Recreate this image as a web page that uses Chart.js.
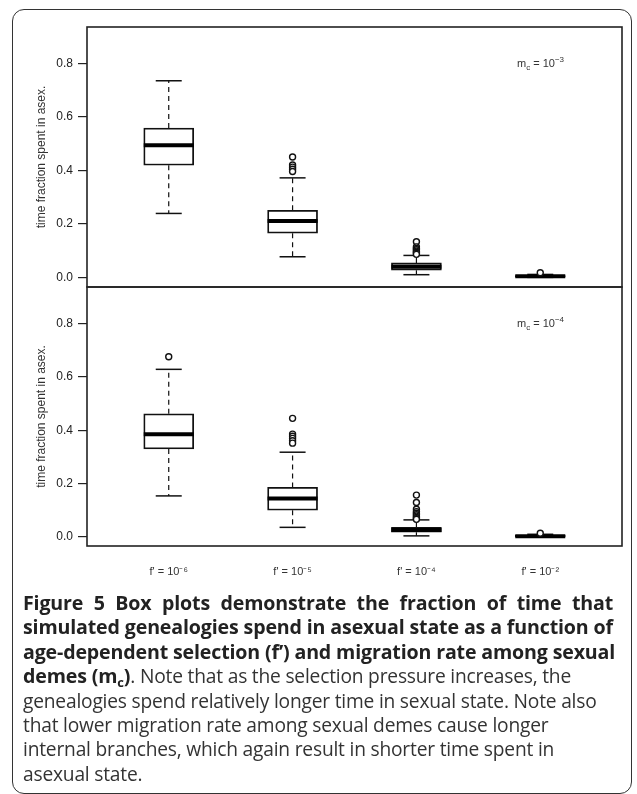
<!DOCTYPE html>
<html>
<head>
<meta charset="utf-8">
<script src="https://cdn.jsdelivr.net/npm/chart.js@4.4.0/dist/chart.umd.min.js"></script>
<style>
  body { margin:0; background:#fff; width:637px; height:794px; overflow:hidden; position:relative; }
  .frame { position:absolute; left:12px; top:9px; width:620px; height:785px; box-sizing:border-box; border:1.5px solid #333; border-radius:12px; }
  #top, #bot { position:absolute; left:0; }
  #top { top:0; }
  #bot { top:280px; }
  .caption { position:absolute; left:23px; top:591px; width:590px; font-family:"Open Sans", sans-serif; font-size:19.2px; line-height:24.4px; color:#333; white-space:nowrap; letter-spacing:-0.2px; }
  .caption div { height:24.4px; }
  .caption .j { text-align:justify; text-align-last:justify; }
  .caption b { color:#222; font-weight:700; font-size:19.6px; letter-spacing:-0.15px; }
  .caption .sub { font-size:13px; position:relative; top:4px; }
</style>
</head>
<body>
<div class="frame"></div>
<canvas id="top" width="637" height="300"></canvas>
<canvas id="bot" width="637" height="320"></canvas>
<div class="caption">
<div class="j"><b>Figure 5 Box plots demonstrate the fraction of time that</b></div>
<div class="j"><b>simulated genealogies spend in asexual state as a function of</b></div>
<div class="j"><b>age-dependent selection (f’) and migration rate among sexual</b></div>
<div><b>demes (m<span class="sub">c</span>)</b>. Note that as the selection pressure increases, the</div>
<div>genealogies spend relatively longer time in sexual state. Note also</div>
<div>that lower migration rate among sexual demes cause longer</div>
<div>internal branches, which again result in shorter time spent in</div>
<div>asexual state.</div>
</div>
<script>
const categories = ["f' = 10⁻⁶", "f' = 10⁻⁵", "f' = 10⁻⁴", "f' = 10⁻²"];
const yTicks = [0, 0.2, 0.4, 0.6, 0.8];

// panel m_c = 10^-3
const topLow    = [0.239, 0.077, 0.010, 0.000];
const topQ1     = [0.419, 0.165, 0.027, 0.002];
const topMedian = [0.494, 0.211, 0.040, 0.004];
const topQ3     = [0.558, 0.251, 0.054, 0.007];
const topHigh   = [0.735, 0.372, 0.082, 0.011];
const topOutliers = [[], [0.450, 0.420, 0.412, 0.404, 0.396], [0.133, 0.114, 0.108, 0.103, 0.098, 0.094, 0.090, 0.086], [0.017]];

// panel m_c = 10^-4
const botLow    = [0.154, 0.036, 0.004, 0.000];
const botQ1     = [0.330, 0.100, 0.018, 0.001];
const botMedian = [0.385, 0.144, 0.026, 0.003];
const botQ3     = [0.462, 0.186, 0.036, 0.006];
const botHigh   = [0.629, 0.318, 0.064, 0.010];
const botOutliers = [[0.676], [0.445, 0.386, 0.378, 0.370, 0.361, 0.352], [0.157, 0.129, 0.104, 0.095, 0.089, 0.083, 0.078, 0.073, 0.068, 0.066], [0.014]];

function boxDatasets(low, q1, med, q3, high, outl) {
  const pos = categories.map((c, i) => i + 1);
  const whisk = [];
  const caps = [];
  const outs = [];
  pos.forEach((x, i) => {
    whisk.push({x, y: q3[i]}, {x, y: high[i]}, {x, y: null}, {x, y: q1[i]}, {x, y: low[i]}, {x, y: null});
    caps.push({x, y: low[i]}, {x, y: high[i]});
    outl[i].forEach(v => outs.push({x, y: v}));
  });
  return [
    { type: 'line', data: whisk, borderColor: '#111', borderWidth: 1.2, borderDash: [5, 4], pointRadius: 0, spanGaps: false, order: 5 },
    { type: 'bar', data: pos.map((x, i) => ({x, y: [q1[i], q3[i]]})), backgroundColor: '#fff', borderColor: '#111', borderWidth: 1.8, borderSkipped: false, barThickness: 50, grouped: false, order: 4 },
    { type: 'scatter', data: pos.map((x, i) => ({x, y: med[i]})), pointStyle: 'line', pointRadius: 25, pointBorderColor: '#000', pointBorderWidth: 4, order: 3 },
    { type: 'scatter', data: caps, pointStyle: 'line', pointRadius: 13, pointBorderColor: '#111', pointBorderWidth: 1.5, order: 3 },
    { type: 'scatter', data: outs, pointStyle: 'circle', pointRadius: 3, pointBackgroundColor: '#fff', pointBorderColor: '#111', pointBorderWidth: 1.4, order: 1 }
  ];
}

// box around the plot area, like R
const framePlugin = {
  id: 'frame',
  afterDraw(chart) {
    const a = chart.chartArea, ctx = chart.ctx;
    ctx.save();
    ctx.strokeStyle = '#222';
    ctx.lineWidth = 1.6;
    ctx.strokeRect(a.left, a.top, a.right - a.left, a.bottom - a.top);
    ctx.restore();
  }
};

// m_c = 10^x label in the corner
const notePlugin = {
  id: 'note',
  afterDraw(chart, args, opts) {
    const a = chart.chartArea, ctx = chart.ctx;
    let x = a.right - 105, y = a.top + 40;
    ctx.save();
    ctx.fillStyle = '#333';
    ctx.textBaseline = 'alphabetic';
    const put = (t, size, dy) => {
      ctx.font = size + 'px "Liberation Sans", Arial, sans-serif';
      ctx.fillText(t, x, y + dy);
      x += ctx.measureText(t).width;
    };
    put('m', 11, 0);
    put('c', 8, 3);
    put(' = 10', 11, 0);
    put(opts.exp, 8, -5);
    ctx.restore();
  }
};

function makeChart(id, sets, yMin, yMax, exp, showX) {
  return new Chart(document.getElementById(id), {
    type: 'bar',
    data: { datasets: sets },
    plugins: [framePlugin, notePlugin],
    options: {
      responsive: false,
      animation: false,
      layout: {
        autoPadding: false,
        padding: showX ? {top: 7, right: 15, bottom: 24, left: 0} : {top: 27, right: 15, bottom: 13, left: 0}
      },
      plugins: { legend: { display: false }, tooltip: { enabled: false }, note: { exp } },
      scales: {
        x: {
          type: 'linear', min: 0.34, max: 4.66, offset: false,
          display: showX,
          afterFit: s => { if (showX) s.height = 30; },
          afterBuildTicks: s => { s.ticks = categories.map((c, i) => ({value: i + 1})); },
          grid: { display: false },
          border: { display: false },
          ticks: {
            padding: 11, autoSkip: false, maxRotation: 0, color: '#333',
            font: { family: '"Liberation Sans", Arial, sans-serif', size: 11 },
            callback: v => categories[v - 1]
          }
        },
        y: {
          min: yMin, max: yMax,
          afterFit: s => { s.width = 87; s.paddingTop = 0; s.paddingBottom = 0; },
          afterBuildTicks: s => { s.ticks = yTicks.map(v => ({value: v})); },
          grid: { drawOnChartArea: false, drawTicks: true, tickLength: 9, color: '#222', lineWidth: 1.2 },
          border: { display: false },
          ticks: {
            padding: 5, color: '#222',
            font: { family: '"Liberation Sans", Arial, sans-serif', size: 12 },
            callback: v => v.toFixed(1)
          },
          title: {
            display: true, text: 'time fraction spent in asex.', color: '#333',
            font: { family: '"Liberation Sans", Arial, sans-serif', size: 12 },
            padding: { top: 34, bottom: 0 }
          }
        }
      }
    }
  });
}

makeChart('top', boxDatasets(topLow, topQ1, topMedian, topQ3, topHigh, topOutliers), -0.036, 0.936, '−3', false);
makeChart('bot', boxDatasets(botLow, botQ1, botMedian, botQ3, botHigh, botOutliers), -0.034, 0.938, '−4', true);
</script>
</body>
</html>
